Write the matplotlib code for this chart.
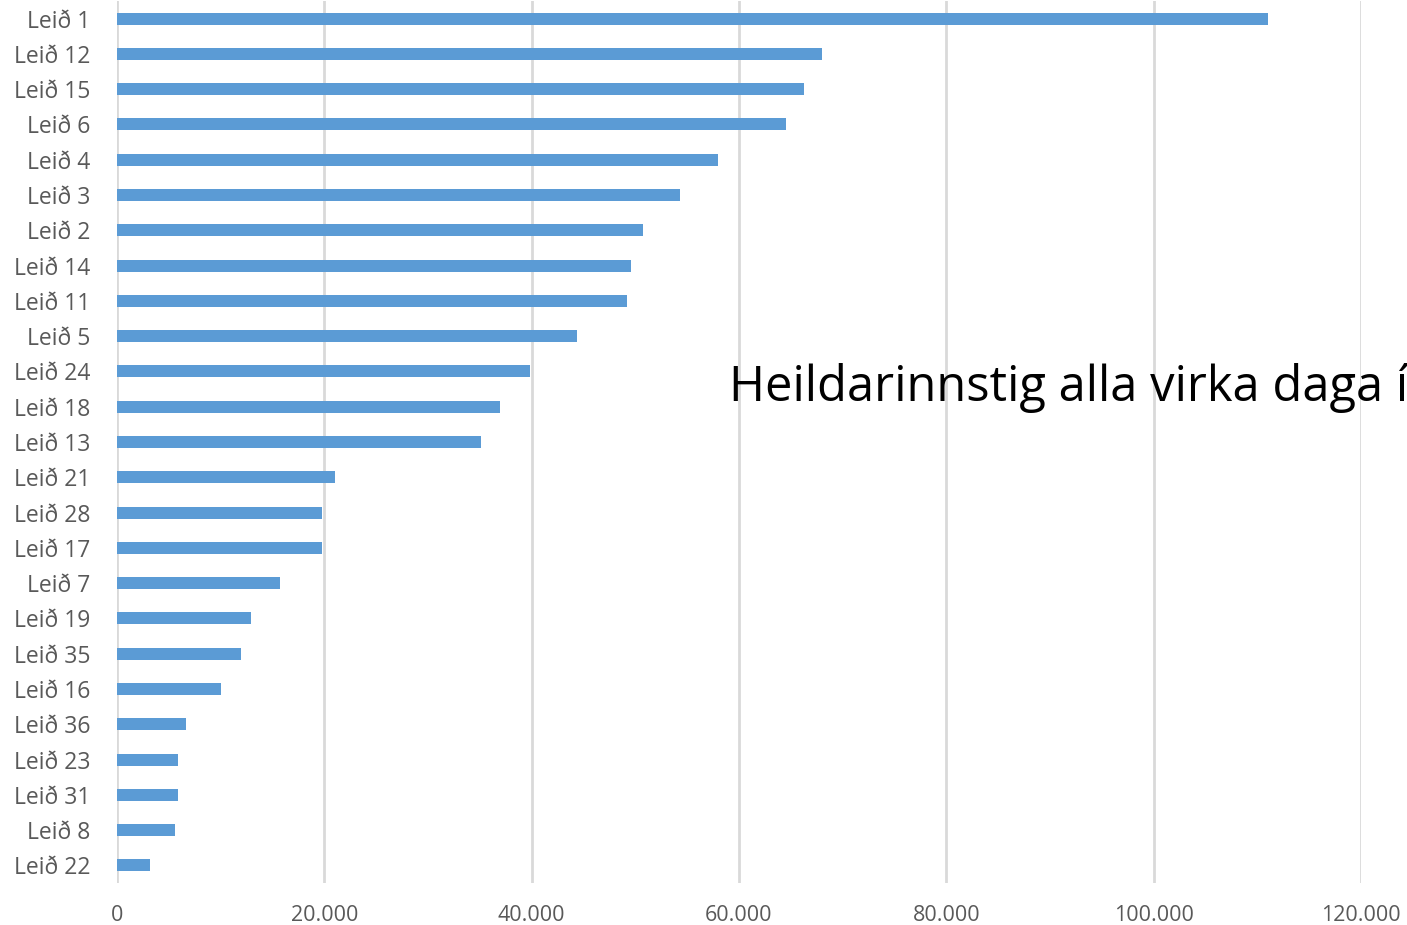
import matplotlib
matplotlib.use("Agg")
import matplotlib.pyplot as plt
from matplotlib.ticker import FuncFormatter

leidir = ["Leið 1", "Leið 12", "Leið 15", "Leið 6", "Leið 4", "Leið 3", "Leið 2",
          "Leið 14", "Leið 11", "Leið 5", "Leið 24", "Leið 18", "Leið 13", "Leið 21",
          "Leið 28", "Leið 17", "Leið 7", "Leið 19", "Leið 35", "Leið 16", "Leið 36",
          "Leið 23", "Leið 31", "Leið 8", "Leið 22"]
innstig = [111000, 68000, 66300, 64500, 58000, 54300, 50700,
           49600, 49200, 44400, 39800, 36900, 35100, 21000,
           19800, 19800, 15700, 12900, 12000, 10000, 6700,
           5900, 5900, 5600, 3200]
titill = "Heildarinnstig alla virka daga í"

plt.rcParams['font.family'] = ['Open Sans', 'DejaVu Sans']

fig = plt.figure(figsize=(14.07, 9.25), dpi=100)
ax = fig.add_axes([117/1407, 1 - 883/925, (1361-117)/1407, 882/925])

y = list(range(len(leidir)))
ax.barh(y, innstig, height=0.34, color="#5B9BD5", zorder=3)
ax.set_ylim(len(leidir) - 0.5, -0.5)
ax.set_yticks(y)
ax.set_yticklabels(leidir, fontsize=16.5, color="#595959")
ax.set_xlim(0, 120000)
ax.set_xticks(range(0, 120001, 20000))
ax.xaxis.set_major_formatter(FuncFormatter(lambda v, p: f"{int(v):,}".replace(",", ".")))
ax.tick_params(axis="x", labelsize=15.5, labelcolor="#595959", length=0, pad=16)
ax.tick_params(axis="y", length=0, pad=19)
ax.grid(axis="x", color="#d9d9d9", linewidth=2, zorder=0)
for s in ax.spines.values():
    s.set_visible(False)

fig.text(729/1407, 1 - 388/925, titill, fontsize=35.2, va="center", ha="left", color="black")

fig.savefig("out.png", dpi=100)
